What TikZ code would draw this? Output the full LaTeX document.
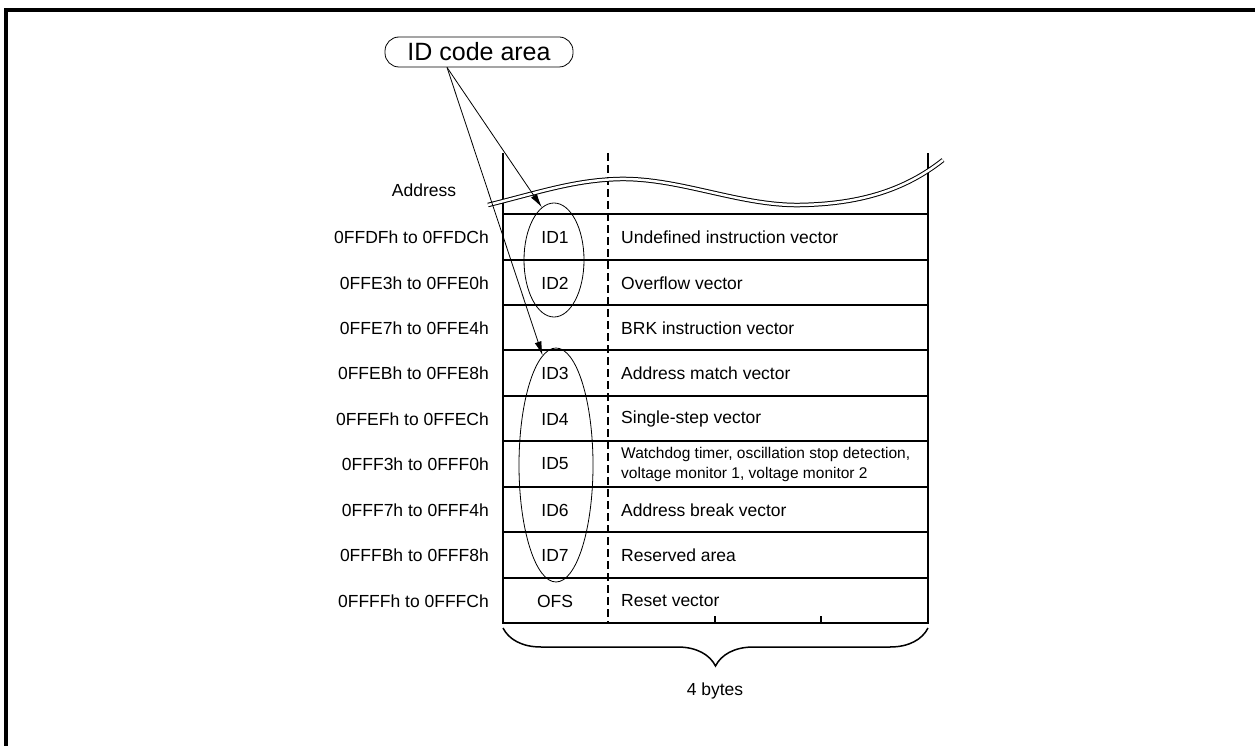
\documentclass[tikz,border=0pt]{standalone}
\usepackage{fontspec}
\setmainfont{Liberation Sans}
\usepackage{tikz}
\usetikzlibrary{arrows.meta, decorations.pathreplacing, shapes.geometric}
\newcommand{\wdttext}{\fontsize{15.5}{20}\selectfont\begin{tabular}{@{}l@{}}Watchdog timer, oscillation stop detection,\\ voltage monitor 1, voltage monitor 2\end{tabular}}

\begin{document}
\begin{tikzpicture}[
        x=1pt, y=-1pt,
        wall/.style={line width=2pt},
        idarea/.style={draw, ellipse, line width=0.8pt, inner sep=0pt},
        rowtext/.style={inner sep=0pt, font=\fontsize{17.5}{20}\selectfont},
        pointer/.style={line width=0.8pt, -{Latex[length=14pt, width=7pt]}}
    ]
    \useasboundingbox (0, 0) rectangle (1255, 746);
    \draw[line width=3.5pt] (6, 746) -- (6, 10) -- (1255, 10);

    % table
    \draw[wall] (503, 153) -- (503, 623) -- (928, 623) -- (928, 153);
    \foreach \y in {214, 260, 305, 350, 396, 441, 487, 532, 578}
        \draw[wall] (503, \y) -- (928, \y);
    \draw[line width=2.5pt, dash pattern=on 8pt off 4pt] (608, 153) -- (608, 623);
    \foreach \x in {715, 821}
        \draw[wall] (\x, 616) -- (\x, 623);
    \draw[line width=1pt, double, double distance=2.5pt] (488, 205) .. controls (540, 192) and (575, 180) .. (620, 179)
        .. controls (680, 178) and (740, 206) .. (800, 205)
        .. controls (860, 204) and (905, 190) .. (943, 160);

    \node[rowtext] (addrhead) at (424, 190) {Address};
    \foreach \y/\a/\i/\v [count=\n] in {
            237/0FFDFh to 0FFDCh/ID1/Undefined instruction vector,
            283/0FFE3h to 0FFE0h/ID2/Overflow vector,
            328/0FFE7h to 0FFE4h//BRK instruction vector,
            373/0FFEBh to 0FFE8h/ID3/Address match vector,
            419/0FFEFh to 0FFECh/ID4/Single-step vector,
            464/0FFF3h to 0FFF0h/ID5/\wdttext,
            510/0FFF7h to 0FFF4h/ID6/Address break vector,
            555/0FFFBh to 0FFF8h/ID7/Reserved area,
            601/0FFFFh to 0FFFCh/OFS/Reset vector} {
        \node[rowtext, anchor=east] (addr\n) at (489, \y) {\a};
        \node[rowtext] (id\n) at (555, \y) {\i};
        \node[rowtext, anchor=west] (vec\n) at (621, \y) {\v};
    }

    % ID code area
    \node[idarea, minimum width=60pt, minimum height=114pt] (idtop) at (554, 260) {};
    \node[idarea, minimum width=74pt, minimum height=234pt] (idlow) at (556, 465) {};
    \node[draw, line width=0.8pt, rounded corners=14pt, minimum width=188pt, minimum height=30pt,
        font=\fontsize{25}{28}\selectfont] (idcode) at (479, 52) {ID code area};
    \coordinate (idfoot) at ([xshift=-32pt]idcode.south);
    \draw[pointer] (idfoot) -- (idtop.103);
    \draw[pointer] (idfoot) -- (idlow.97);

    \coordinate (bracel) at (503, 628);
    \coordinate (bracer) at (928, 628);
    \draw[decorate, decoration={brace, mirror, amplitude=38pt}, line width=1.5pt] (bracel) -- (bracer);
    \node[rowtext] (bytes) at (715, 691) {4 bytes};
\end{tikzpicture}
\end{document}
